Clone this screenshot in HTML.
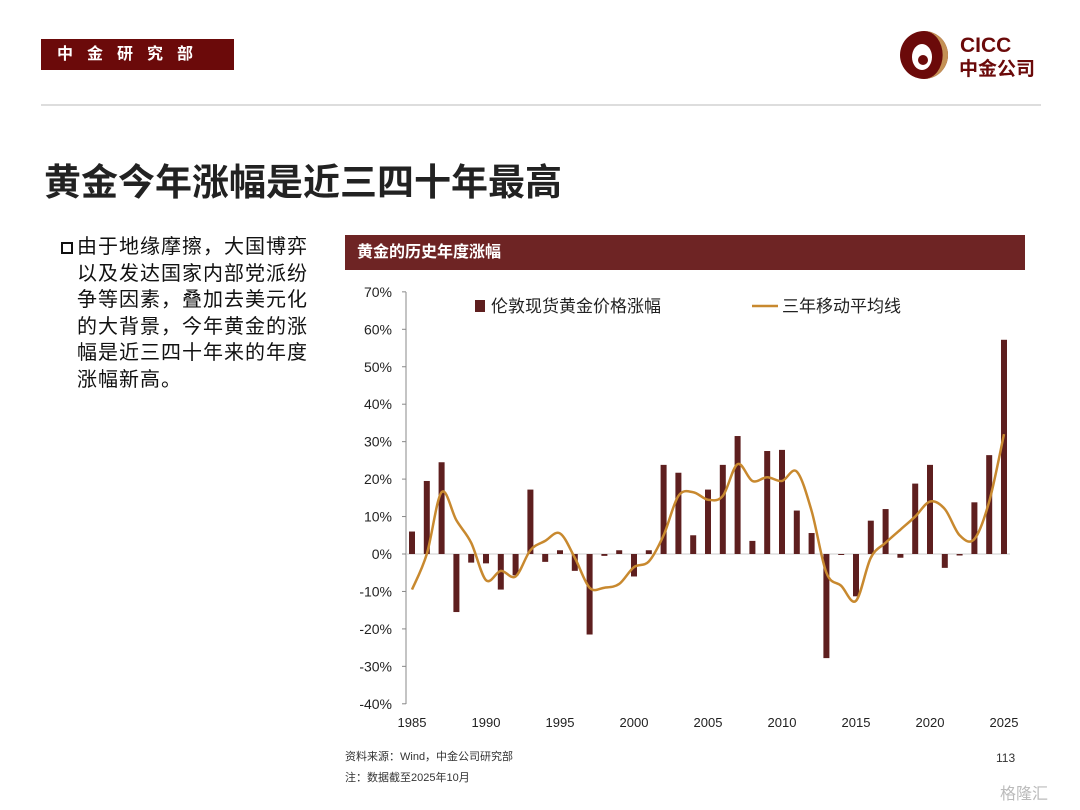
<!DOCTYPE html>
<html><head><meta charset="utf-8"><style>
body{margin:0;width:1080px;height:810px;background:#fff;position:relative;overflow:hidden;font-family:"Liberation Sans","Noto Sans CJK SC",sans-serif;}
.abs{position:absolute;}
</style></head><body>
<div class="abs" style="left:41px;top:39px;width:193px;height:31px;background:#6b0a0a;color:#fff;font-size:16px;line-height:31px;letter-spacing:14px;padding-left:16px;box-sizing:border-box;font-weight:bold;">中金研究部</div>
<svg class="abs" style="left:900px;top:30px" width="150" height="52">
<circle cx="24" cy="25" r="24" fill="#6b0a0a"/>
<path d="M24 1 A24 24 0 0 1 24 49 A14 18 0 0 0 24 1Z" fill="#c49155"/>
<ellipse cx="22" cy="27" rx="10" ry="13" fill="#fff"/>
<circle cx="23" cy="30" r="5" fill="#6b0a0a"/>
<text x="60" y="22" font-size="21" font-weight="bold" fill="#6b0a0a" font-family="Liberation Sans">CICC</text>
<text x="59" y="45" font-size="19" font-weight="bold" fill="#6b0a0a" font-family="Noto Sans CJK SC">中金公司</text>
</svg>
<div class="abs" style="left:41px;top:104px;width:1000px;height:2px;background:#ddd;"></div>
<div class="abs" style="left:44px;top:152px;font-size:37px;font-weight:bold;color:#222;">黄金今年涨幅是近三四十年最高</div>
<div class="abs" style="left:61px;top:242px;width:8px;height:8px;border:2px solid #111;"></div>
<div class="abs" style="left:77px;top:234px;width:236px;font-size:20px;letter-spacing:1px;line-height:26.5px;color:#111;">由于地缘摩擦，大国博弈以及发达国家内部党派纷争等因素，叠加去美元化的大背景，今年黄金的涨幅是近三四十年来的年度涨幅新高。</div>
<div class="abs" style="left:345px;top:235px;width:680px;height:35px;background:#6e2424;color:#fff;font-size:16px;font-weight:bold;line-height:35px;padding-left:12px;box-sizing:border-box;">黄金的历史年度涨幅</div>
<svg id="chart" class="abs" style="left:0;top:0" width="1080" height="810"></svg>
<div class="abs" style="left:345px;top:748px;font-size:11px;color:#333;">资料来源：Wind，中金公司研究部</div>
<div class="abs" style="left:345px;top:769px;font-size:11px;color:#333;">注：数据截至2025年10月</div>
<div class="abs" style="left:996px;top:751px;font-size:12px;color:#333;">113</div>
<div class="abs" style="left:1000px;top:780px;font-size:16px;color:#bbb;">格隆汇</div>
<script>
const years=[1985,1986,1987,1988,1989,1990,1991,1992,1993,1994,1995,1996,1997,1998,1999,2000,2001,2002,2003,2004,2005,2006,2007,2008,2009,2010,2011,2012,2013,2014,2015,2016,2017,2018,2019,2020,2021,2022,2023,2024,2025];
const annualChange=[6,19.5,24.5,-15.5,-2.3,-2.5,-9.5,-5.7,17.2,-2.1,1,-4.5,-21.5,-0.5,1,-6,1,23.8,21.7,5,17.2,23.8,31.5,3.5,27.5,27.8,11.6,5.6,-27.8,-0.2,-11.3,8.9,12,-1,18.8,23.8,-3.7,-0.4,13.8,26.4,57.2];
const movingAvg=[-9.5,0,16.5,9,3,-7,-4.5,-6,1,3.5,5.5,-1,-9,-9,-8,-3.5,-2,5,15.5,16.5,14.5,15.5,24,19.5,20.5,19.5,22,11.5,-5,-8.5,-12.5,-1,3,6.5,10,14,12,5,4,14,32];
const yTicks=[70,60,50,40,30,20,10,0,-10,-20,-30,-40];
const xTicks=[1985,1990,1995,2000,2005,2010,2015,2020,2025];
const NS="http://www.w3.org/2000/svg";
const svg=document.getElementById('chart');
const X=y=>412+(y-1985)*14.8;
const Y=v=>554-v*3.745;
function mk(t,a){const e=document.createElementNS(NS,t);for(const k in a)e.setAttribute(k,a[k]);svg.appendChild(e);return e;}
const ax=mk('line',{x1:406,y1:292,x2:406,y2:704,stroke:'#888'});


yTicks.forEach(t=>{
 const tk=mk('line',{x1:402,x2:406,y1:Y(t),y2:Y(t),stroke:'#888'});
 
 
 const l=mk('text',{x:392,y:Y(t)+5,'text-anchor':'end','font-size':14,fill:'#222'});l.textContent=t+'%';
 
 
});
const zl=mk('line',{x1:406,x2:1010,y1:Y(0),y2:Y(0),stroke:'#ccc'});


xTicks.forEach(t=>{
 const l=mk('text',{x:X(t),y:727,'text-anchor':'middle','font-size':13,fill:'#222'});l.textContent=t;
 
 
});
years.forEach((yr,i)=>{
 const v=annualChange[i];
 const b=mk('rect',{x:X(yr)-3,y:Math.min(Y(v),Y(0)),width:6,height:Math.max(1,Math.abs(Y(v)-Y(0))),fill:'#5e1f1f'});
 
 
});
const pts=years.map((yr,i)=>[X(yr),Y(movingAvg[i])]);
let d='M'+pts[0][0]+','+pts[0][1];
for(let i=0;i<pts.length-1;i++){
 const p0=pts[Math.max(0,i-1)],p1=pts[i],p2=pts[i+1],p3=pts[Math.min(pts.length-1,i+2)];
 d+=' C'+(p1[0]+(p2[0]-p0[0])/6)+','+(p1[1]+(p2[1]-p0[1])/6)+' '+(p2[0]-(p3[0]-p1[0])/6)+','+(p2[1]-(p3[1]-p1[1])/6)+' '+p2[0]+','+p2[1];
}
const ln=mk('path',{d:d,fill:'none',stroke:'#c8892f','stroke-width':2.5});


const lb=mk('rect',{x:475,y:300,width:10,height:12,fill:'#5e1f1f'});


const lt=mk('text',{x:491,y:312,'font-size':17,fill:'#222'});lt.textContent='伦敦现货黄金价格涨幅';


const ll=mk('line',{x1:752,x2:778,y1:306,y2:306,stroke:'#c8892f','stroke-width':2.5});


const lt2=mk('text',{x:782,y:312,'font-size':17,fill:'#222'});lt2.textContent='三年移动平均线';


</script>
</body></html>
